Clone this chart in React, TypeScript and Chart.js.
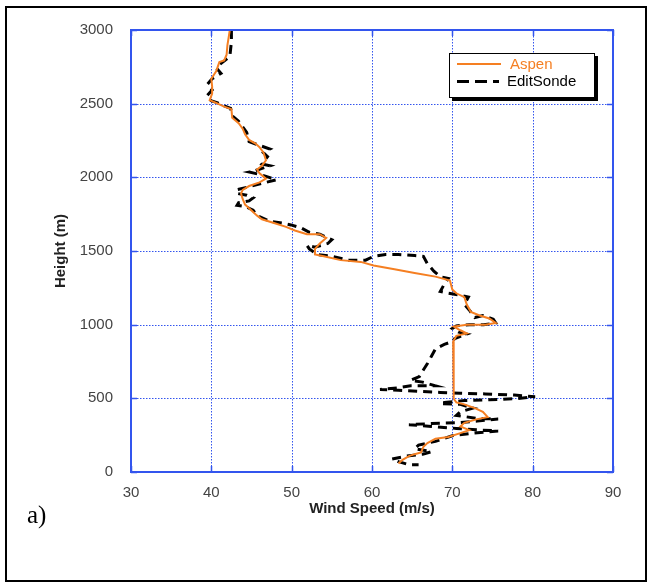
import React, { useEffect, useRef } from "react";
import { Chart, registerables } from "chart.js";

Chart.register(...registerables);

// Wind speed axis ticks (m/s) and height axis ticks (m)
const speedTicks = [30, 40, 50, 60, 70, 80, 90];
const heightTicks = [0, 500, 1000, 1500, 2000, 2500, 3000];

// Aspen profile
const aspenSpeed = [
  42.3, 42.0, 41.9, 41.6, 41.0, 40.6, 40.0, 40.1, 40.1, 39.8, 40.6, 41.6, 42.5, 42.6, 43.4, 43.9,
  44.2, 44.7, 45.5, 46.0, 46.5, 46.8, 46.3, 45.7, 46.0, 46.8, 46.0, 44.7, 43.9, 43.7, 43.9, 44.2,
  44.7, 45.2, 45.7, 46.3, 47.8, 49.3, 50.4, 51.9, 53.5, 54.3, 53.5, 52.9, 52.9, 54.0, 56.1, 58.6,
  60.2, 62.8, 65.3, 67.9, 69.7, 70.0, 70.5, 71.5, 71.8, 72.3, 73.4, 74.6, 75.4, 74.1, 71.8, 70.2,
  71.0, 71.8, 70.5, 70.1, 70.1, 70.2, 70.2, 70.5, 71.5, 72.8, 73.8, 74.4, 73.1, 71.5, 71.0, 72.1,
  71.0, 69.5, 67.9, 66.9, 66.4, 66.1, 65.3, 64.6, 63.8, 63.3,
];
const aspenHeight = [
  3000, 2895, 2832, 2794, 2782, 2719, 2669, 2618, 2568, 2523, 2505, 2480, 2463, 2405, 2367, 2330,
  2292, 2254, 2229, 2204, 2167, 2116, 2079, 2053, 2028, 1991, 1966, 1941, 1915, 1890, 1853, 1815,
  1790, 1765, 1740, 1715, 1690, 1664, 1639, 1614, 1614, 1589, 1551, 1514, 1476, 1464, 1438, 1426,
  1401, 1376, 1351, 1326, 1300, 1238, 1213, 1187, 1137, 1087, 1062, 1042, 1012, 999, 999, 987,
  962, 941, 924, 886, 685, 535, 497, 472, 459, 434, 409, 372, 359, 334, 309, 284,
  264, 238, 226, 196, 171, 133, 121, 108, 83, 58,
];

// EditSonde profile
const editSpeed = [
  42.5, 42.5, 42.3, 41.1, 40.6, 41.2, 40.1, 39.5, 40.1, 39.5, 39.8, 40.8, 41.6, 42.4, 42.6, 43.4,
  43.9, 44.4, 44.7, 46.0, 47.3, 46.5, 47.0, 46.3, 47.3, 45.5, 44.7, 46.3, 48.1, 46.8, 44.7, 43.1,
  43.3, 44.4, 45.2, 44.7, 43.4, 43.2, 44.2, 45.2, 45.7, 47.3, 48.8, 49.9, 51.1, 52.2, 53.5, 55.0,
  54.5, 52.9, 51.9, 52.2, 53.2, 55.0, 57.1, 59.2, 60.2, 61.7, 63.3, 65.3, 66.4, 66.9, 67.7, 68.5,
  69.5, 69.0, 68.5, 69.5, 71.0, 72.0, 71.5, 72.1, 72.8, 73.8, 75.1, 75.4, 73.9, 72.1, 70.5, 70.0,
  70.8, 71.8, 70.3, 70.0, 69.0, 67.9, 67.4, 66.9, 66.3, 65.9, 64.8, 66.3, 67.9, 64.8, 63.3, 61.0,
  63.3, 65.9, 68.5, 71.0, 74.1, 77.7, 80.3, 77.7, 74.6, 71.5, 69.0, 68.5, 71.0, 72.6, 71.0, 70.5,
  73.1, 75.7, 73.1, 70.5, 67.4, 64.6, 67.4, 70.5, 73.6, 75.7, 72.6, 70.0, 67.9, 65.8, 65.3, 67.4,
  66.3, 64.3, 62.5, 63.3, 64.6, 65.8,
];
const editHeight = [
  3000, 2920, 2819, 2769, 2744, 2706, 2669, 2631, 2593, 2556, 2523, 2505, 2485, 2468, 2418, 2380,
  2342, 2305, 2242, 2217, 2192, 2167, 2141, 2091, 2079, 2046, 2036, 2016, 1983, 1966, 1936, 1915,
  1890, 1878, 1860, 1840, 1828, 1810, 1803, 1777, 1740, 1702, 1690, 1677, 1659, 1627, 1614, 1577,
  1551, 1526, 1539, 1514, 1476, 1464, 1438, 1438, 1464, 1476, 1476, 1469, 1464, 1413, 1363, 1326,
  1313, 1275, 1225, 1213, 1200, 1187, 1137, 1100, 1049, 1062, 1037, 1012, 999, 999, 992, 974,
  949, 936, 906, 886, 866, 836, 786, 736, 685, 648, 623, 610, 585, 585, 572, 560,
  555, 547, 540, 535, 530, 522, 510, 497, 490, 485, 472, 464, 459, 434, 409, 384,
  364, 359, 346, 334, 329, 321, 309, 296, 284, 279, 264, 246, 208, 183, 158, 138,
  121, 108, 88, 70, 50, 50,
];

const GRID_BLUE = "#3355ee";

const gridPlugin = {
  id: "blueGrid",
  beforeDatasetsDraw(chart: any) {
    const { ctx, chartArea: a, scales } = chart;
    const x = scales.x;
    const y = scales.y;
    ctx.save();
    ctx.strokeStyle = GRID_BLUE;
    ctx.lineWidth = 1;
    ctx.setLineDash([1.5, 1.5]);
    for (const v of speedTicks) {
      const px = Math.round(x.getPixelForValue(v)) + 0.5;
      ctx.beginPath();
      ctx.moveTo(px, a.top);
      ctx.lineTo(px, a.bottom);
      ctx.stroke();
    }
    for (const v of heightTicks) {
      const py = Math.round(y.getPixelForValue(v)) + 0.5;
      ctx.beginPath();
      ctx.moveTo(a.left, py);
      ctx.lineTo(a.right, py);
      ctx.stroke();
    }
    ctx.restore();
  },
  afterDatasetsDraw(chart: any) {
    const { ctx, chartArea: a, scales } = chart;
    const x = scales.x;
    const y = scales.y;
    ctx.save();
    ctx.strokeStyle = GRID_BLUE;
    ctx.setLineDash([]);
    ctx.lineWidth = 1.5;
    const tl = 6;
    for (const v of speedTicks) {
      const px = Math.round(x.getPixelForValue(v)) + 0.5;
      ctx.beginPath();
      ctx.moveTo(px, a.bottom);
      ctx.lineTo(px, a.bottom - tl);
      ctx.moveTo(px, a.top);
      ctx.lineTo(px, a.top + tl);
      ctx.stroke();
    }
    for (const v of heightTicks) {
      const py = Math.round(y.getPixelForValue(v)) + 0.5;
      ctx.beginPath();
      ctx.moveTo(a.left, py);
      ctx.lineTo(a.left + tl, py);
      ctx.moveTo(a.right, py);
      ctx.lineTo(a.right - tl, py);
      ctx.stroke();
    }
    ctx.lineWidth = 2;
    ctx.strokeRect(a.left, a.top, a.right - a.left, a.bottom - a.top);
    ctx.restore();
  },
};

export default function App() {
  const canvasRef = useRef<HTMLCanvasElement | null>(null);

  useEffect(() => {
    document.body.style.margin = "0";
    const canvas = canvasRef.current;
    if (!canvas) return;
    const tickFont = { family: "'Liberation Sans', Arial, sans-serif", size: 15 };
    const titleFont = { family: "'Liberation Sans', Arial, sans-serif", size: 15, weight: "bold" as const };
    const chart = new Chart(canvas, {
      type: "scatter",
      data: {
        datasets: [
          {
            label: "Aspen",
            data: aspenSpeed.map((s, i) => ({ x: s, y: aspenHeight[i] })),
            showLine: true,
            borderColor: "#f57f22",
            backgroundColor: "#f57f22",
            borderWidth: 2,
            pointRadius: 0,
            tension: 0,
          },
          {
            label: "EditSonde",
            data: editSpeed.map((s, i) => ({ x: s, y: editHeight[i] })),
            showLine: true,
            borderColor: "#000000",
            backgroundColor: "#000000",
            borderWidth: 3,
            borderDash: [9, 6],
            pointRadius: 0,
            tension: 0,
          },
        ],
      },
      options: {
        animation: false,
        responsive: false,
        devicePixelRatio: 1,
        layout: { padding: { left: 0, top: 30, right: 37, bottom: 0 } },
        plugins: {
          legend: { display: false },
          tooltip: { enabled: false },
        },
        scales: {
          x: {
            type: "linear",
            min: 30,
            max: 90,
            afterFit: (s: any) => {
              s.height = 112;
            },
            ticks: {
              stepSize: 10,
              padding: 4,
              color: "#444",
              font: tickFont,
              callback: (v: any) => String(v),
            },
            grid: { display: false },
            border: { display: false },
            title: {
              display: true,
              text: "Wind Speed (m/s)",
              color: "#222",
              font: titleFont,
              padding: { top: 0, bottom: 66 },
            },
          },
          y: {
            type: "linear",
            min: 0,
            max: 3000,
            afterFit: (s: any) => {
              s.width = 131;
            },
            ticks: {
              stepSize: 500,
              padding: 10,
              color: "#444",
              font: tickFont,
              callback: (v: any) => String(v),
            },
            grid: { display: false },
            border: { display: false },
            title: {
              display: true,
              text: "Height (m)",
              color: "#222",
              font: titleFont,
              padding: { top: 52, bottom: 0 },
            },
          },
        },
      },
      plugins: [gridPlugin],
    });
    return () => chart.destroy();
  }, []);

  return (
    <div style={{ position: "relative", width: 650, height: 584, background: "#fff", overflow: "hidden" }}>
      <canvas ref={canvasRef} width={650} height={584} style={{ position: "absolute", left: 0, top: 0, width: 650, height: 584 }} />
      <div
        style={{
          position: "absolute",
          left: 5,
          top: 6,
          width: 642,
          height: 576,
          border: "2px solid #000",
          boxSizing: "border-box",
          pointerEvents: "none",
        }}
      />
      <div
        style={{
          position: "absolute",
          left: 27,
          top: 502,
          fontFamily: "'Liberation Serif', 'Times New Roman', serif",
          fontSize: 25,
          lineHeight: "25px",
          color: "#000",
        }}
      >
        a)
      </div>
      <div
        style={{
          position: "absolute",
          left: 449,
          top: 53,
          width: 146,
          height: 45,
          border: "1.5px solid #000",
          boxShadow: "3px 3px 0 #000",
          background: "#fff",
          boxSizing: "border-box",
          fontFamily: "'Liberation Sans', Arial, sans-serif",
          fontSize: 15,
        }}
      >
        <div style={{ position: "absolute", left: 7, top: 9, width: 44, height: 0, borderTop: "2px solid #f57f22" }} />
        <div style={{ position: "absolute", left: 60, top: 1, lineHeight: "18px", color: "#f57f22" }}>Aspen</div>
        <div style={{ position: "absolute", left: 7, top: 26, width: 48, height: 3, display: "flex", gap: 6 }}>
          <div style={{ width: 12, height: 3, background: "#000" }} />
          <div style={{ width: 12, height: 3, background: "#000" }} />
          <div style={{ width: 6, height: 3, background: "#000" }} />
        </div>
        <div style={{ position: "absolute", left: 57, top: 18, lineHeight: "18px", color: "#000" }}>EditSonde</div>
      </div>
    </div>
  );
}
